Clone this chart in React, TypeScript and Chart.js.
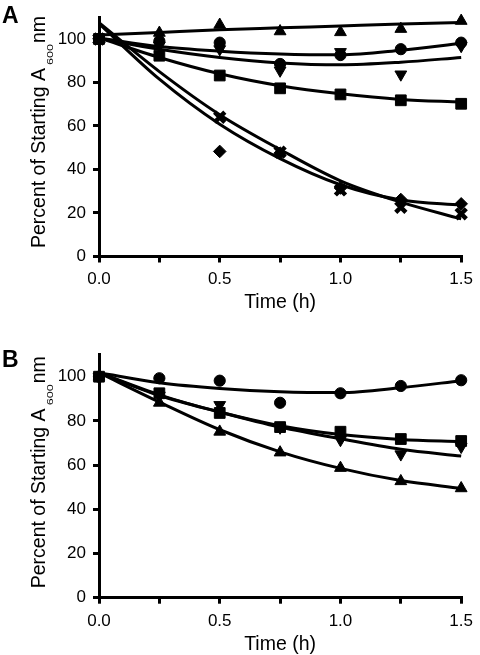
import React, { useEffect, useRef } from 'react';
import { Chart, registerables } from 'chart.js';

Chart.register(...registerables);

const FONT = '"Liberation Sans", Arial, Helvetica, sans-serif';

// Time points (h)
const times = [0, 0.25, 0.5, 0.75, 1.0, 1.25, 1.5];

// Axis ticks
const xTickValues = [0, 0.25, 0.5, 0.75, 1.0, 1.25, 1.5];
const xTickLabels = ['0.0', '', '0.5', '', '1.0', '', '1.5'];
const yTickValues = [0, 20, 40, 60, 80, 100];

// Panel A – measured points
const aTriangle = [100, 102.8, 106.5, 103.5, 103.1, 104.6, 108.3];
const aCircle = [100, 99, 98.3, 88.5, 92.6, 95.3, 98.3];
const aInvTriangle = [100, 97, 95.3, 85.5, 94, 83.7, 96.8];
const aSquare = [100, 92.3, 83.2, 77.3, 74.5, 71.8, 70.2];
const aDiamond = [100, null, 48.3, 47.5, 31.5, 26.2, 24.2];
const aCross = [100, null, 64, 48, 30.6, 22.6, 19.6];

// Panel A – trend curves
const aTriangleFit = [101.8, 103, 104.2, 105.1, 106, 106.9, 107.6];
const aCircleFit = [100.5, 96.5, 94.4, 93.1, 92.7, 94.8, 98];
const aInvTriangleFit = [100.2, 95.3, 91.5, 89, 88.1, 89.3, 91.5];
const aSquareFit = [100.5, 91.5, 84, 78.5, 74.8, 72.2, 71];
const aDiamondFit = [107, 81.5, 60.8, 45, 33, 26, 23.6];
const aCrossFit = [107.5, 85, 65.2, 49.2, 34.8, 25, 17.3];

// Panel B – measured points
const bCircle = [100, 99.3, 98.2, 88.2, 92.5, 95.8, 98.4];
const bSquare = [100, 92.5, 83.6, 77.2, 75.1, 71.8, 70.9];
const bInvTriangle = [100, 91.5, 87.2, 77, 71.4, 64.9, 68.3];
const bTriangle = [100, 88.2, 75.1, 65.7, 58.7, 52.7, 49.5];

// Panel B – trend curves
const bCircleFit = [101.8, 97.3, 94.7, 93.2, 92.8, 95, 98.2];
const bSquareFit = [101.8, 91.8, 84, 77.8, 73.8, 71.6, 70.6];
const bInvTriangleFit = [101.8, 91.5, 84, 77.2, 71.9, 67.2, 64.1];
const bTriangleFit = [101.8, 88.5, 76, 66, 58.5, 53, 49.5];

const toPts = (vals: (number | null)[]) =>
  times
    .map((t, i) => (vals[i] == null ? null : { x: t, y: vals[i] as number }))
    .filter((p) => p !== null) as { x: number; y: number }[];

type MarkerKind = 'triangle' | 'invTriangle' | 'circle' | 'square' | 'diamond' | 'cross';

const markerDataset = (vals: (number | null)[], kind: MarkerKind) => {
  const base: any = {
    data: toPts(vals),
    showLine: false,
    backgroundColor: '#000',
    borderColor: '#000',
    pointBackgroundColor: '#000',
    pointBorderColor: '#000',
    pointBorderWidth: 1,
    clip: false,
  };
  switch (kind) {
    case 'triangle':
      return { ...base, pointStyle: 'triangle', pointRadius: 6.8 };
    case 'invTriangle':
      return { ...base, pointStyle: 'triangle', pointRotation: 180, pointRadius: 6.8 };
    case 'circle':
      return { ...base, pointStyle: 'circle', pointRadius: 5.6 };
    case 'square':
      return { ...base, pointStyle: 'rect', pointRadius: 7.6 };
    case 'diamond':
      return { ...base, pointStyle: 'rectRot', pointRadius: 6.3 };
    case 'cross':
      return { ...base, pointStyle: 'crossRot', pointRadius: 7.2, pointBorderWidth: 4.5 };
  }
};

const fitDataset = (vals: number[]) => ({
  data: toPts(vals),
  showLine: true,
  pointRadius: 0,
  borderColor: '#000',
  borderWidth: 3,
  cubicInterpolationMode: 'monotone',
  fill: false,
  clip: false,
});

interface PanelProps {
  letter: string;
  height: number;
  padTop: number;
  padBottom: number;
  xScaleHeight: number;
  letterBaseline: number;
  titleStartY: number;
  datasets: any[];
}

const Panel: React.FC<PanelProps> = (p) => {
  const ref = useRef<HTMLCanvasElement | null>(null);
  useEffect(() => {
    if (!ref.current) return;
    const textPlugin = {
      id: 'panelText' + p.letter,
      afterDraw(chart: any) {
        const ctx = chart.ctx as CanvasRenderingContext2D;
        ctx.save();
        ctx.fillStyle = '#000';
        ctx.textAlign = 'left';
        ctx.textBaseline = 'alphabetic';
        ctx.font = `bold 23px ${FONT}`;
        ctx.fillText(p.letter, 2, p.letterBaseline);
        // rotated y-axis title with subscript
        ctx.translate(45, p.titleStartY);
        ctx.rotate(-Math.PI / 2);
        ctx.font = `19.5px ${FONT}`;
        const main = 'Percent of Starting A';
        ctx.fillText(main, 0, 0);
        const w = ctx.measureText(main).width + 3;
        ctx.save();
        ctx.translate(w, 7.5);
        ctx.scale(1.4, 1);
        ctx.font = `9px ${FONT}`;
        ctx.fillText('600', 0, 0);
        const sw = ctx.measureText('600').width * 1.4;
        ctx.restore();
        ctx.font = `19.5px ${FONT}`;
        ctx.fillText('nm', w + sw + 1, 0);
        ctx.restore();
      },
    };
    const gridOpts = {
      display: true,
      drawOnChartArea: false,
      drawTicks: true,
      tickLength: 6,
      tickWidth: 3,
      tickColor: '#000',
      color: '#000',
      lineWidth: 3,
    };
    const chart = new Chart(ref.current, {
      type: 'scatter',
      data: { datasets: p.datasets },
      options: {
        responsive: false,
        animation: false,
        layout: { padding: { top: p.padTop, right: 16, bottom: p.padBottom, left: 0 } },
        plugins: { legend: { display: false }, tooltip: { enabled: false } },
        scales: {
          x: {
            type: 'linear',
            min: 0,
            max: 1.5,
            afterBuildTicks: (s: any) => {
              s.ticks = xTickValues.map((v) => ({ value: v }));
            },
            afterFit: (s: any) => {
              s.height = p.xScaleHeight;
            },
            ticks: {
              autoSkip: false,
              maxRotation: 0,
              padding: 7,
              color: '#000',
              font: { size: 17, family: FONT },
              callback: (v: any) => {
                const i = xTickValues.indexOf(Number(v));
                return i >= 0 ? xTickLabels[i] : '';
              },
            },
            grid: gridOpts,
            border: { display: true, color: '#000', width: 3 },
            title: {
              display: true,
              text: 'Time (h)',
              color: '#000',
              font: { size: 19.5, family: FONT, lineHeight: 1 },
              padding: 0,
            },
          },
          y: {
            type: 'linear',
            min: 0,
            max: 110,
            afterBuildTicks: (s: any) => {
              s.ticks = yTickValues.map((v) => ({ value: v }));
            },
            afterFit: (s: any) => {
              s.width = 99;
            },
            ticks: {
              padding: 7,
              color: '#000',
              font: { size: 17, family: FONT },
              callback: (v: any) => String(v),
            },
            grid: gridOpts,
            border: { display: true, color: '#000', width: 3 },
          },
        },
      } as any,
      plugins: [textPlugin],
    });
    return () => chart.destroy();
  }, []);
  return <canvas ref={ref} width={480} height={p.height} style={{ display: 'block', width: 480, height: p.height }} />;
};

const datasetsA = [
  fitDataset(aTriangleFit),
  fitDataset(aCircleFit),
  fitDataset(aInvTriangleFit),
  fitDataset(aSquareFit),
  fitDataset(aDiamondFit),
  fitDataset(aCrossFit),
  markerDataset(aTriangle, 'triangle'),
  markerDataset(aCircle, 'circle'),
  markerDataset(aInvTriangle, 'invTriangle'),
  markerDataset(aSquare, 'square'),
  markerDataset(aDiamond, 'diamond'),
  markerDataset(aCross, 'cross'),
];

const datasetsB = [
  fitDataset(bCircleFit),
  fitDataset(bSquareFit),
  fitDataset(bInvTriangleFit),
  fitDataset(bTriangleFit),
  markerDataset(bCircle, 'circle'),
  markerDataset(bSquare, 'square'),
  markerDataset(bInvTriangle, 'invTriangle'),
  markerDataset(bTriangle, 'triangle'),
];

export default function App() {
  return (
    <div style={{ position: 'absolute', left: 0, top: 0, width: 480, height: 655, background: '#fff' }}>
      <Panel
        letter="A"
        height={330}
        padTop={12.3}
        padBottom={17.25}
        xScaleHeight={56.25}
        letterBaseline={23}
        titleStartY={248}
        datasets={datasetsA}
      />
      <Panel
        letter="B"
        height={325}
        padTop={24.6}
        padBottom={0.25}
        xScaleHeight={57.05}
        letterBaseline={36.7}
        titleStartY={258.3}
        datasets={datasetsB}
      />
    </div>
  );
}
